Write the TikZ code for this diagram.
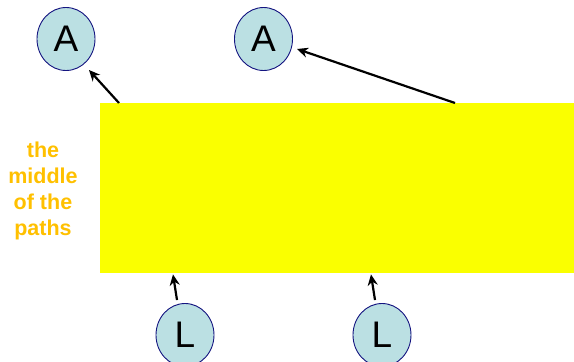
\documentclass[tikz,border=0pt]{standalone}
\usepackage{fontspec}
\setmainfont{Liberation Sans}
\usetikzlibrary{shapes.geometric,calc,arrows.meta}
\definecolor{bubble}{RGB}{187,224,227}
\definecolor{rim}{RGB}{20,20,128}
\definecolor{gold}{RGB}{255,192,0}
\definecolor{hilite}{RGB}{250,255,0}
\tikzset{
  token/.style={ellipse, draw=rim, line width=0.9pt, fill=bubble,
    minimum width=58pt, minimum height=63pt, inner sep=0pt,
    font=\fontsize{37}{40}\selectfont},
  arr/.style={-{Stealth[length=11pt,width=10pt,inset=3.5pt]}, line width=2.2pt, black},
  note/.style={text=gold, font=\bfseries\fontsize{21.5}{26}\selectfont, align=center}
}
\begin{document}
\begin{tikzpicture}[x=1pt,y=-1pt]
  \useasboundingbox (0,0) rectangle (574,362);
  % shared middle section of the paths
  \node[fill=hilite, draw=none, minimum width=474pt, minimum height=170pt,
        inner sep=0pt, anchor=north west] (box) at (100,103) {};
  \node[note] (lbl) at (43,191) {the\\middle\\of the\\paths};
  % end points above, start points below
  \node[token] (a1) at (66,39) {A};
  \node[token] (a2) at (263.5,39) {A};
  \node[token] (l1) at (185,335) {L};
  \node[token] (l2) at (382,335) {L};
  % connectors
  \draw[arr] ($(box.north west)+(19,0)$) -- ($(a1)+(23,31)$);
  \draw[arr] ($(box.north west)+(355,0)$) -- ($(a2)+(33.5,10)$);
  \draw[arr] ($(l1.north)+(-8,-3)$) -- ($(box.south west)+(73,1)$);
  \draw[arr] ($(l2.north)+(-7,-3)$) -- ($(box.south west)+(271,1)$);
\end{tikzpicture}
\end{document}
